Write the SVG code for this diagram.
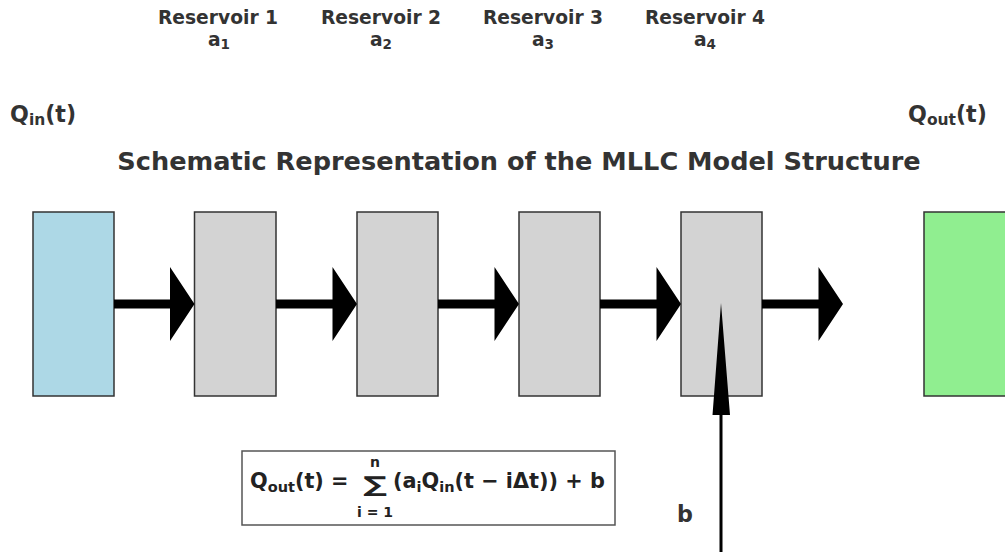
<svg xmlns="http://www.w3.org/2000/svg" width="1005" height="556" viewBox="0 0 1005 556">
<style>
text{font-family:"DejaVu Sans","Liberation Sans",sans-serif;font-weight:bold;fill:#333}
.lbl{font-size:18.7px;text-anchor:middle}
.ls{font-size:13.5px}
.sub{font-size:15.5px}
.fsub{font-size:14.5px}
.title{font-size:25.6px;text-anchor:middle}
.q{font-size:22.2px}
.f{font-size:20.8px;fill:#222}
.box{stroke:#333;stroke-width:1.5}
.arr{fill:#000}
</style>
<rect width="1005" height="556" fill="#fff"/>
<g id="labels">
<text class="lbl" x="218" y="24">Reservoir 1</text>
<text class="lbl" x="219" y="46">a<tspan class="ls" dy="3">1</tspan></text>
<text class="lbl" x="381" y="24">Reservoir 2</text>
<text class="lbl" x="381" y="46">a<tspan class="ls" dy="3">2</tspan></text>
<text class="lbl" x="543" y="24">Reservoir 3</text>
<text class="lbl" x="543" y="46">a<tspan class="ls" dy="3">3</tspan></text>
<text class="lbl" x="705" y="24">Reservoir 4</text>
<text class="lbl" x="705" y="46">a<tspan class="ls" dy="3">4</tspan></text>
</g>
<g id="qin"><text class="q" x="10" y="122">Q<tspan class="sub" dy="3">in</tspan><tspan dy="-3">(t)</tspan></text></g>
<g id="qout"><text class="q" x="908" y="122">Q<tspan class="sub" dy="3">out</tspan><tspan dy="-3">(t)</tspan></text></g>
<g id="title"><text class="title" x="519" y="170">Schematic Representation of the MLLC Model Structure</text></g>
<g id="input"><rect class="box" x="33" y="212" width="81" height="184" fill="#add8e6"/></g>
<g id="reservoir1"><rect class="box" x="194.5" y="212" width="81.5" height="184" fill="#d3d3d3"/></g>
<g id="reservoir2"><rect class="box" x="357" y="212" width="81" height="184" fill="#d3d3d3"/></g>
<g id="reservoir3"><rect class="box" x="519" y="212" width="81" height="184" fill="#d3d3d3"/></g>
<g id="reservoir4"><rect class="box" x="681" y="212" width="81" height="184" fill="#d3d3d3"/></g>
<g id="output"><rect class="box" x="924" y="212" width="82" height="184" fill="#90ee90"/></g>
<g id="connectors">
<polygon class="arr" points="114,299.5 170,299.5 170,267 194.5,304 170,341 170,308.5 114,308.5"/>
<polygon class="arr" points="276,299.5 332.5,299.5 332.5,267 357,304 332.5,341 332.5,308.5 276,308.5"/>
<polygon class="arr" points="438,299.5 494.5,299.5 494.5,267 519,304 494.5,341 494.5,308.5 438,308.5"/>
<polygon class="arr" points="600,299.5 656.5,299.5 656.5,267 681,304 656.5,341 656.5,308.5 600,308.5"/>
<polygon class="arr" points="762,299.5 818.5,299.5 818.5,267 843,304 818.5,341 818.5,308.5 762,308.5"/>
<polygon class="arr" points="719.5,552 719.5,415 712.5,415 721,303 730,415 722.5,415 722.5,552"/>
</g>
<g id="b-label"><text class="q" x="677" y="522">b</text></g>
<g id="formula">
<rect x="242" y="451" width="373" height="74" fill="#fff" stroke="#555" stroke-width="1.5"/>
<text class="f" x="250" y="488">Q<tspan class="fsub" dy="4">out</tspan><tspan dy="-4">(t) =</tspan></text>
<text class="f" transform="translate(375,492) scale(1,0.65)" x="0" y="0" text-anchor="middle" style="font-size:33px">∑</text>
<text class="f" x="375" y="467" text-anchor="middle" style="font-size:14px">n</text>
<text class="f" x="375" y="517" text-anchor="middle" style="font-size:14px">i = 1</text>
<text class="f" x="393" y="488">(a<tspan class="fsub" dy="4">i</tspan><tspan dy="-4">Q</tspan><tspan class="fsub" dy="4">in</tspan><tspan dy="-4">(t − iΔt)) + b</tspan></text>
</g>
</svg>
